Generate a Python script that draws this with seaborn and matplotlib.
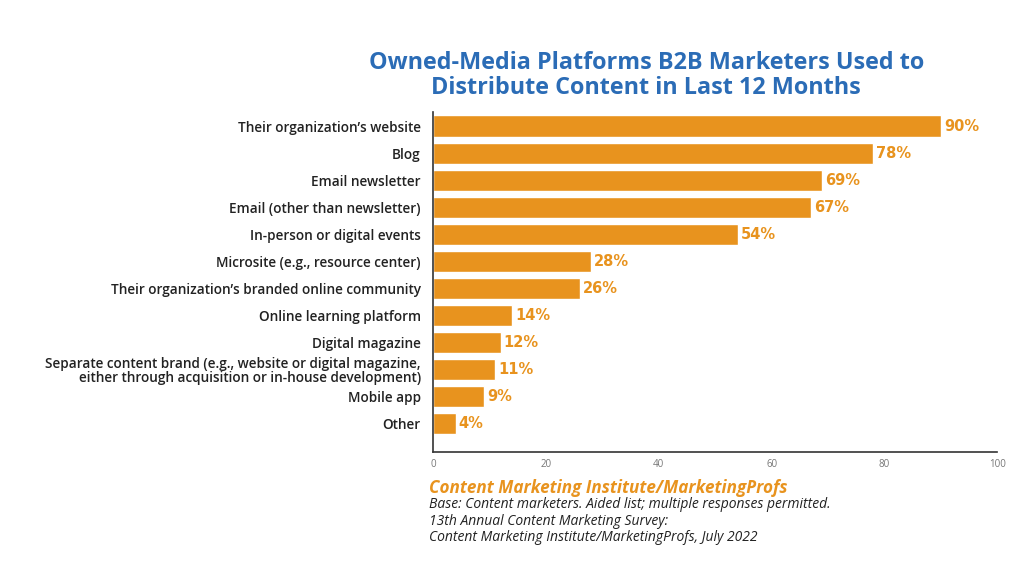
import matplotlib
matplotlib.use("Agg")
import matplotlib.pyplot as plt
import seaborn as sns
import pandas as pd

categories = [
    "Their organization\u2019s website",
    "Blog",
    "Email newsletter",
    "Email (other than newsletter)",
    "In-person or digital events",
    "Microsite (e.g., resource center)",
    "Their organization\u2019s branded online community",
    "Online learning platform",
    "Digital magazine",
    "Separate content brand (e.g., website or digital magazine,\neither through acquisition or in-house development)",
    "Mobile app",
    "Other",
]
values = [90, 78, 69, 67, 54, 28, 26, 14, 12, 11, 9, 4]
xticks = [0, 20, 40, 60, 80, 100]

sns.set_theme(style="white")
plt.rcParams["font.family"] = ["Open Sans", "DejaVu Sans"]

BAR = "#E8931E"
BLUE = "#2B6CB6"

df = pd.DataFrame({"cat": categories, "val": values})
fig = plt.figure(figsize=(10.24, 5.8), dpi=100)
ax = fig.add_axes([0.423, 0.221, 0.551, 0.586])
sns.barplot(data=df, x="val", y="cat", color=BAR, saturation=1, width=0.78, ax=ax, orient="h")
ax.set_xlim(0, 100)
ax.set_ylim(12.03, -0.52)
ax.set_xlabel("")
ax.set_ylabel("")
ax.set_xticks(xticks)
ax.set_xticklabels([str(t) for t in xticks], fontsize=7, color="#777777")
ax.tick_params(axis="x", direction="in", length=6, width=1.2, color="#333333", pad=5)
ax.tick_params(axis="y", length=0, pad=9, labelsize=9.8)
for lab in ax.get_yticklabels():
    lab.set_color("#222222")
    lab.set_fontweight("semibold")
    lab.set_linespacing(1.0)
for s in ["top", "right"]:
    ax.spines[s].set_visible(False)
for s in ["left", "bottom"]:
    ax.spines[s].set_color("#333333")
    ax.spines[s].set_linewidth(1.2)

for i, v in enumerate(values):
    ax.text(v + 0.5, i, f"{v}%", va="center", ha="left", fontsize=10.5,
            fontweight="bold", color=BAR, family=["DejaVu Sans"])

fig.text(0.631, 0.870, "Owned-Media Platforms B2B Marketers Used to\nDistribute Content in Last 12 Months",
         ha="center", va="center", fontsize=16.8, fontweight="bold", color=BLUE, linespacing=1.05)

fig.text(0.419, 0.158, "Content Marketing Institute/MarketingProfs", ha="left", va="center",
         fontsize=12.3, fontweight="bold", style="italic", color=BAR)
notes = ["Base: Content marketers. Aided list; multiple responses permitted.",
         "13th Annual Content Marketing Survey:",
         "Content Marketing Institute/MarketingProfs, July 2022"]
for k, line in enumerate(notes):
    fig.text(0.419, 0.130 - k * 0.0285, line, ha="left", va="center",
             fontsize=10.0, style="italic", color="#222222")

fig.savefig("out.png", dpi=100)
